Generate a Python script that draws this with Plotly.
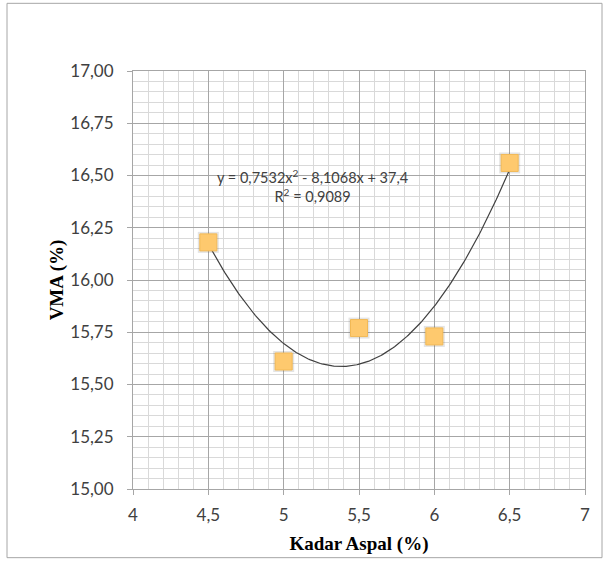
import numpy as np
import plotly.graph_objects as go

# Asphalt content vs. VMA test results
kadar_aspal = [4.5, 5.0, 5.5, 6.0, 6.5]
vma = [16.18, 15.61, 15.77, 15.73, 16.56]

# Polynomial (order 2) trendline: y = a*x^2 + b*x + c
trend_coef = [0.7532, -8.1068, 37.4]
r_squared = 0.9089

x_ticks = [4, 4.5, 5, 5.5, 6, 6.5, 7]
y_ticks = [15.00, 15.25, 15.50, 15.75, 16.00, 16.25, 16.50, 16.75, 17.00]

W, H = 608, 563
L, R, T, B = 133, 23, 71, 72

tick_font = dict(family="Lato", size=17, color="#404040")
title_font = dict(family="Liberation Serif", size=19, color="#000000")
MAJOR = "#a6a6a6"
MINOR = "#d9d9d9"

a, b, c = trend_coef
xs = np.linspace(min(kadar_aspal), max(kadar_aspal), 200)
ys = a * xs**2 + b * xs + c

fig = go.Figure()

fig.add_trace(go.Scatter(
    x=xs, y=ys, mode="lines",
    line=dict(color="#404040", width=1.2),
    hoverinfo="skip", showlegend=False,
))

# soft halo behind the markers
fig.add_trace(go.Scatter(
    x=kadar_aspal, y=vma, mode="markers",
    marker=dict(symbol="square", size=21, color="rgba(90,90,90,0.16)",
                line=dict(width=0)),
    hoverinfo="skip", showlegend=False,
))

fig.add_trace(go.Scatter(
    x=kadar_aspal, y=vma, mode="markers",
    marker=dict(symbol="square", size=17, color="#fec96e",
                line=dict(color="#f2b956", width=1)),
    showlegend=False,
))


def fmt(v):
    return f"{v}".replace(".", ",")


eq_text = (f"y = {fmt(a)}x<sup>2</sup> - {fmt(abs(b))}x + {fmt(c)}"
           f"<br>R<sup>2</sup> = {fmt(r_squared)}")
fig.add_annotation(
    x=5.19, y=16.45, xref="x", yref="y",
    text=eq_text, showarrow=False, align="center",
    font=dict(family="Lato", size=14.5, color="#404040"),
    bgcolor="rgba(255,255,255,0)",
)

# outer chart border
fig.add_shape(
    type="rect", xref="paper", yref="paper",
    x0=(7 - L) / (W - L - R), x1=(602 - L) / (W - L - R),
    y0=(H - B - 560) / (H - T - B), y1=(H - B - 3) / (H - T - B),
    line=dict(color="#a6a6a6", width=1), fillcolor="rgba(0,0,0,0)",
    layer="below",
)

fig.update_layout(
    width=W, height=H,
    margin=dict(l=L, r=R, t=T, b=B),
    paper_bgcolor="white", plot_bgcolor="white",
    separators=",.",
    showlegend=False,
)

fig.update_xaxes(
    range=[4, 7], tickvals=x_ticks, tickformat="",
    showgrid=True, gridcolor=MAJOR, gridwidth=1,
    minor=dict(dtick=0.1, showgrid=True, gridcolor=MINOR, gridwidth=1),
    showline=True, linecolor=MAJOR, linewidth=1, mirror=True,
    ticks="outside", ticklen=5, tickcolor=MAJOR,
    tickfont=tick_font, ticklabelstandoff=6,
    zeroline=False,
    title=dict(text="<b>Kadar Aspal (%)</b>", font=title_font, standoff=12),
)

fig.update_yaxes(
    range=[15, 17], tickvals=y_ticks, tickformat=".2f",
    showgrid=True, gridcolor=MAJOR, gridwidth=1,
    minor=dict(dtick=0.05, showgrid=True, gridcolor=MINOR, gridwidth=1),
    showline=True, linecolor=MAJOR, linewidth=1, mirror=True,
    ticks="outside", ticklen=5, tickcolor=MAJOR,
    tickfont=tick_font, ticklabelstandoff=10,
    zeroline=False,
    title=dict(text="<b>VMA (%)</b>", font=title_font, standoff=1),
)

fig.write_html("out.html")
